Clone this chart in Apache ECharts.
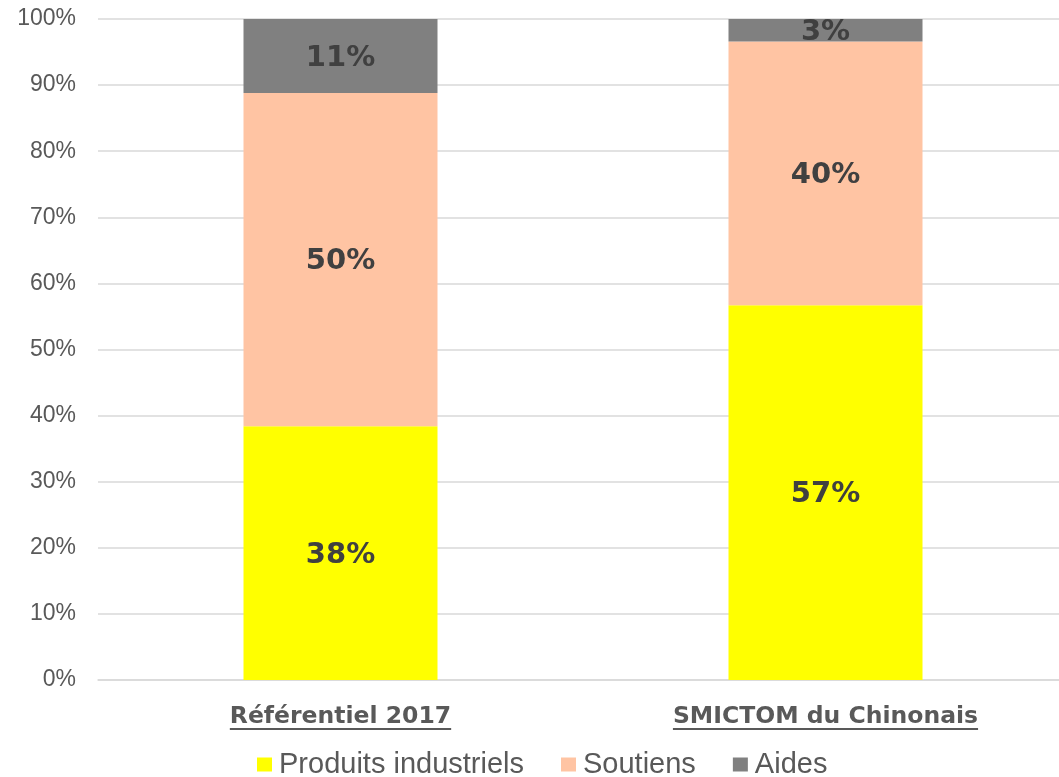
<!DOCTYPE html>
<html>
<head>
<meta charset="utf-8">
<script src="https://cdn.jsdelivr.net/npm/echarts@6/dist/echarts.min.js"></script>
<style>
html,body{margin:0;padding:0;background:#fff;overflow:hidden;}
#chart{width:1068px;height:777px;}
</style>
</head>
<body>
<div id="chart"></div>
<script>
const categories = ['Référentiel 2017', 'SMICTOM du Chinonais'];
const seriesNames = ['Produits industriels', 'Soutiens', 'Aides'];
const produits = [38.4, 56.7];
const soutiens = [50.4, 39.9];
const aides = [11.2, 3.4];
const yTicks = [0, 10, 20, 30, 40, 50, 60, 70, 80, 90, 100];

const colors = ['#FFFF00', '#FFC4A3', '#808080'];
const labelStyle = {
  show: true,
  position: 'inside',
  offset: [0, 2],
  formatter: p => Math.round(p.value) + '%',
  fontFamily: '"DejaVu Sans", Verdana, sans-serif',
  fontWeight: 'bold',
  fontSize: 29,
  color: '#404040'
};
const xFont = 'bold 23.5px "DejaVu Sans"';

const chart = echarts.init(document.getElementById('chart'), null, {renderer: 'canvas'});
const option = {
  animation: false,
  backgroundColor: '#ffffff',
  grid: {left: 98, top: 19, right: 0, height: 661, containLabel: false},
  legend: {
    data: seriesNames,
    left: 257,
    top: 750,
    padding: 0,
    itemWidth: 15,
    itemHeight: 14,
    itemGap: 37,
    icon: 'rect',
    textStyle: {
      fontFamily: '"Liberation Sans", Arial, sans-serif',
      fontSize: 29,
      color: '#595959',
      padding: [0, 0, 0, 2]
    }
  },
  xAxis: {
    type: 'category',
    data: categories,
    axisTick: {show: false},
    axisLine: {lineStyle: {color: '#d9d9d9', width: 1.5}},
    axisLabel: {
      margin: 25,
      fontFamily: '"DejaVu Sans", Verdana, sans-serif',
      fontWeight: 'bold',
      fontSize: 23.5,
      color: '#595959'
    }
  },
  yAxis: {
    type: 'value',
    min: yTicks[0],
    max: yTicks[yTicks.length - 1],
    interval: yTicks[1] - yTicks[0],
    axisLine: {show: false},
    axisTick: {show: false},
    splitLine: {lineStyle: {color: '#d9d9d9', width: 1.5}},
    axisLabel: {
      formatter: '{value}%',
      margin: 22,
      fontFamily: '"Liberation Sans", Arial, sans-serif',
      fontSize: 23,
      color: '#595959'
    }
  },
  series: [
    {name: seriesNames[0], type: 'bar', stack: 'total', barWidth: '40%', data: produits, itemStyle: {color: colors[0]}, label: labelStyle},
    {name: seriesNames[1], type: 'bar', stack: 'total', barWidth: '40%', data: soutiens, itemStyle: {color: colors[1]}, label: labelStyle},
    {name: seriesNames[2], type: 'bar', stack: 'total', barWidth: '40%', data: aides, itemStyle: {color: colors[2]}, label: labelStyle}
  ]
};
chart.setOption(option);

// underline the category labels, positioned from the axis scale
const ctx = document.createElement('canvas').getContext('2d');
ctx.font = xFont;
const y0 = chart.convertToPixel({yAxisIndex: 0}, 0);
const underlines = categories.map(c => {
  const cx = chart.convertToPixel({xAxisIndex: 0}, c);
  const w = ctx.measureText(c).width;
  return {
    type: 'rect',
    shape: {x: cx - w / 2, y: y0 + 48, width: w, height: 2},
    style: {fill: '#595959'},
    silent: true
  };
});
chart.setOption({graphic: underlines});
</script>
</body>
</html>
